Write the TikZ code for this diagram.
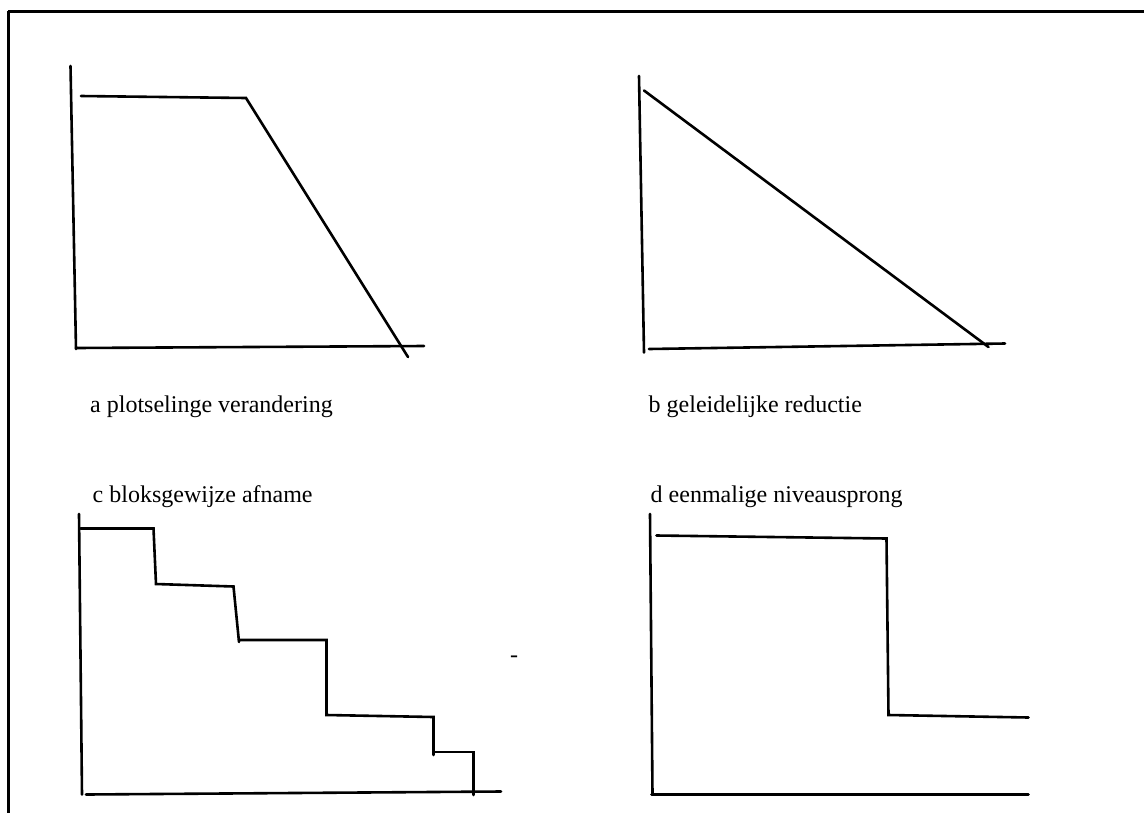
\documentclass[tikz,border=0pt]{standalone}
\usepackage{fontspec}
\setmainfont{Liberation Serif}
\usepackage{tikz}
\usetikzlibrary{calc}

\begin{document}
\begin{tikzpicture}[x=1pt, y=-1pt,
    plotline/.style={line width=2.6pt, line cap=round, line join=miter},
    caption/.style={anchor=base west, inner sep=0pt, font=\fontsize{24}{28}\selectfont}]
    \clip (0,0) rectangle (1144,812);
    \fill[white] (0,0) rectangle (1144,812);
    \draw[line width=3pt] (8,11) -- (1160,11) (8,11) -- (8,830);
    % a
    \draw[plotline] (70.5,66) -- (76,349);
    \draw[plotline] (76,348) -- (424,346);
    \draw[plotline] (81,96) -- (246,98) -- (408,357);
    \node[caption] (capa) at (90,412) {a plotselinge verandering};
    % b
    \draw[plotline] (639,76) -- (644,352.5);
    \draw[plotline] (649,349) -- (1005,343.5);
    \draw[plotline] (644,90.5) -- (988.5,347);
    \node[caption] (capb) at (648.5,412) {b geleidelijke reductie};
    % c
    \node[caption] (capc) at (92.5,502) {c bloksgewijze afname};
    \draw[plotline] (79,514) -- (82,794.5);
    \draw[plotline] (86,794.5) -- (501,791.5);
    \draw[plotline] (80.5,528.5) -- (153.5,528.5) -- (156,584) -- (233.5,586.5)
        -- (239,642);
    \draw[plotline] (239,640) -- (326.5,640) -- (326.5,715) -- (433.5,717) -- (433.5,755);
    \draw[plotline] (435.5,752) -- (473.5,752) -- (473.5,795);
    \node[inner sep=0pt, font=\fontsize{24}{28}\selectfont] (dash) at (514,659) {-};
    % d
    \node[caption] (capd) at (650.5,502) {d eenmalige niveausprong};
    \draw[plotline] (650,514) -- (652.5,794.5);
    \draw[plotline] (651.5,794.5) -- (1028.5,794.5);
    \draw[plotline] (656.5,535.5) -- (886.5,538.5) -- (888.5,715) -- (1028.5,717.5);
\end{tikzpicture}
\end{document}
